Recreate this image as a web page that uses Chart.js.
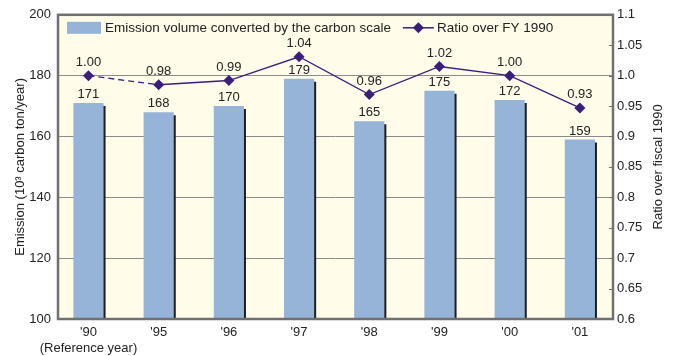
<!DOCTYPE html>
<html lang="en">
<head>
    <meta charset="UTF-8">
    <title>Emission volume converted by the carbon scale</title>
    <script src="https://cdn.jsdelivr.net/npm/chart.js"></script>
    <style>
        body {
            margin: 0;
            background: #ffffff;
        }

        #wrap {
            width: 674px;
            height: 356px;
        }
    </style>
</head>
<body>

    <div id="wrap">
        <canvas id="myChart" width="674" height="356"></canvas>
    </div>

    <script>
        // data
        var years = ["'90", "'95", "'96", "'97", "'98", "'99", "'00", "'01"];
        var emission = [171, 168, 170, 179, 165, 175, 172, 159];
        var ratio = [1.0, 0.985, 0.992, 1.031, 0.969, 1.015, 1.0, 0.947];
        var ratioText = ['1.00', '0.98', '0.99', '1.04', '0.96', '1.02', '1.00', '0.93'];
        var barName = 'Emission volume converted by the carbon scale';
        var lineName = 'Ratio over FY 1990';
        var leftTicks = [100, 200, 20];   // min, max, step
        var rightTicks = [0.6, 1.1, 0.05];

        var barColor = '#95b4d8';
        var lineColor = '#3b1d7c';
        var textColor = '#222222';
        var font13 = '13px "Liberation Sans", Arial, sans-serif';
        var fontLegend = '13.5px "Liberation Sans", Arial, sans-serif';

        Chart.defaults.font.family = '"Liberation Sans", Arial, sans-serif';
        Chart.defaults.font.size = 13;
        Chart.defaults.color = textColor;

        var barPoints = emission.map(function (v, i) { return { x: i, y: v }; });
        var linePoints = ratio.map(function (v, i) { return { x: i, y: v }; });

        var framePlugin = {
            id: 'frame',
            beforeDraw: function (chart) {
                var a = chart.chartArea;
                var ctx = chart.ctx;
                ctx.save();
                ctx.fillStyle = '#fffdea';
                ctx.fillRect(a.left, a.top, a.right - a.left, a.bottom - a.top);
                ctx.restore();
            },
            beforeDatasetDraw: function (chart, args) {
                if (args.index !== 0) return;
                var ctx = chart.ctx;
                ctx.save();
                ctx.shadowColor = '#1e1e1e';
                ctx.shadowOffsetX = 2;
                ctx.shadowOffsetY = 3;
                ctx.shadowBlur = 0;
            },
            afterDatasetDraw: function (chart, args) {
                if (args.index !== 0) return;
                chart.ctx.restore();
            },
            afterDatasetsDraw: function (chart) {
                var ctx = chart.ctx;
                ctx.save();
                ctx.fillStyle = textColor;
                ctx.font = font13;
                ctx.textAlign = 'center';
                ctx.textBaseline = 'bottom';
                chart.getDatasetMeta(0).data.forEach(function (bar, i) {
                    ctx.fillText(String(emission[i]), bar.x, bar.y - 2);
                });
                chart.getDatasetMeta(1).data.forEach(function (pt, i) {
                    ctx.fillText(ratioText[i], pt.x, pt.y - 7);
                });
                ctx.restore();
            },
            afterDraw: function (chart) {
                var a = chart.chartArea;
                var ctx = chart.ctx;
                ctx.save();

                // 右軸の内向き目盛り
                var y1 = chart.scales.y1;
                ctx.strokeStyle = '#707070';
                ctx.lineWidth = 1;
                y1.ticks.forEach(function (t) {
                    var py = Math.round(y1.getPixelForValue(t.value)) + 0.5;
                    ctx.beginPath();
                    ctx.moveTo(a.right - 4, py);
                    ctx.lineTo(a.right, py);
                    ctx.stroke();
                });

                // 枠
                ctx.strokeStyle = '#707070';
                ctx.lineWidth = 2.5;
                ctx.strokeRect(a.left, a.top, a.right - a.left, a.bottom - a.top);

                // 凡例（グラフ内の左上）
                var lx = a.left + 9;
                var ly = a.top + 13;
                ctx.font = fontLegend;
                ctx.textAlign = 'left';
                ctx.textBaseline = 'middle';
                ctx.fillStyle = barColor;
                ctx.fillRect(lx, ly - 6, 34, 12);
                ctx.fillStyle = textColor;
                ctx.fillText(barName, lx + 38, ly);
                var lx2 = lx + 38 + ctx.measureText(barName).width + 12;
                ctx.strokeStyle = lineColor;
                ctx.fillStyle = lineColor;
                ctx.lineWidth = 1.5;
                ctx.beginPath();
                ctx.moveTo(lx2, ly);
                ctx.lineTo(lx2 + 31, ly);
                ctx.stroke();
                var cx = lx2 + 15.5;
                ctx.beginPath();
                ctx.moveTo(cx, ly - 5.5);
                ctx.lineTo(cx + 5.5, ly);
                ctx.lineTo(cx, ly + 5.5);
                ctx.lineTo(cx - 5.5, ly);
                ctx.closePath();
                ctx.fill();
                ctx.fillStyle = textColor;
                ctx.fillText(lineName, lx2 + 34, ly);

                // 右軸タイトル（下から上へ）
                ctx.font = font13;
                ctx.textAlign = 'center';
                ctx.translate(658, (a.top + a.bottom) / 2);
                ctx.rotate(-Math.PI / 2);
                ctx.fillText('Ratio over fiscal 1990', 0, 0);
                ctx.restore();
            }
        };

        var ctx = document.getElementById('myChart').getContext('2d');
        var myChart = new Chart(ctx, {
            type: 'bar',
            data: {
                datasets: [{
                    type: 'bar',
                    label: barName,
                    data: barPoints,
                    backgroundColor: barColor,
                    borderWidth: 0,
                    categoryPercentage: 1,
                    barPercentage: 0.43,
                    yAxisID: 'y',
                    clip: 0,
                    order: 2
                }, {
                    type: 'line',
                    label: lineName,
                    data: linePoints,
                    borderColor: lineColor,
                    backgroundColor: lineColor,
                    borderWidth: 1.3,
                    pointStyle: 'rectRot',
                    pointRadius: 5.5,
                    pointBackgroundColor: lineColor,
                    pointBorderWidth: 0,
                    segment: {
                        borderDash: function (c) { return c.p0DataIndex === 0 ? [6, 4] : undefined; }
                    },
                    yAxisID: 'y1',
                    order: 1
                }]
            },
            options: {
                responsive: false,
                animation: false,
                layout: {
                    padding: { top: 14, left: 0, right: 0, bottom: 0 }
                },
                plugins: {
                    tooltip: { enabled: false },
                    legend: { display: false }
                },
                scales: {
                    x: {
                        type: 'linear',
                        min: -0.434,
                        max: 7.472,
                        offset: false,
                        grid: { display: false, drawTicks: false },
                        border: { display: false },
                        afterBuildTicks: function (s) {
                            s.ticks = years.map(function (y, i) { return { value: i }; });
                        },
                        ticks: {
                            padding: 6,
                            color: textColor,
                            maxRotation: 0,
                            autoSkip: false,
                            callback: function (v) {
                                // 1つ目のラベルだけ二行
                                return v === 0 ? [years[0], '(Reference year)'] : years[v];
                            }
                        },
                        afterFit: function (s) { s.height = 37; }
                    },
                    y: {
                        position: 'left',
                        min: leftTicks[0],
                        max: leftTicks[1],
                        ticks: { stepSize: leftTicks[2], padding: 7, color: textColor },
                        grid: { color: '#8c8c8c', lineWidth: 1, drawTicks: false },
                        border: { display: false },
                        title: {
                            display: true,
                            text: 'Emission (10³ carbon ton/year)',
                            color: textColor,
                            font: { size: 13 },
                            padding: { top: 13, bottom: 0 }
                        },
                        afterFit: function (s) { s.width = 58; }
                    },
                    y1: {
                        position: 'right',
                        min: rightTicks[0],
                        max: rightTicks[1],
                        ticks: {
                            stepSize: rightTicks[2],
                            padding: 4,
                            color: textColor,
                            callback: function (v) {
                                var s = String(Math.round(v * 100) / 100);
                                return s.indexOf('.') < 0 ? s + '.0' : s;
                            }
                        },
                        grid: { drawOnChartArea: false, drawTicks: false },
                        border: { display: false },
                        afterFit: function (s) { s.width = 61; }
                    }
                }
            },
            plugins: [framePlugin]
        });
    </script>

</body>
</html>
